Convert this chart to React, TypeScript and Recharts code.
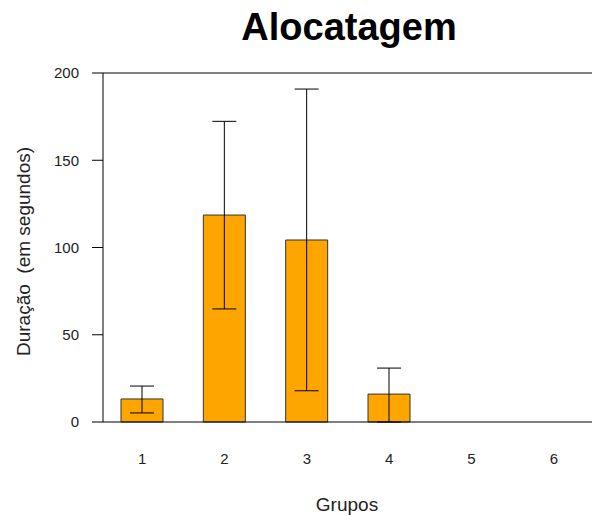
import { Bar, BarChart, ErrorBar, Label, ReferenceLine, XAxis, YAxis } from 'recharts'

const grupos = ['1', '2', '3', '4', '5', '6']
const duracaoMedia = [13.2, 118.6, 104.3, 16, 0, 0]
const duracaoMin = [5.2, 64.8, 17.9, 0, 0, 0]
const duracaoMax = [20.6, 172.3, 190.8, 30.9, 0, 0]
const yTicks = [0, 50, 100, 150, 200]

const font = '"Liberation Sans", Arial, sans-serif'

const data = grupos.map((grupo, i) => ({
  grupo,
  duracao: duracaoMedia[i],
  // ErrorBar wants [below, above] offsets from the bar value
  erro: [duracaoMedia[i] - duracaoMin[i], duracaoMax[i] - duracaoMedia[i]],
}))

function YLabel({ viewBox }: any) {
  const cx = viewBox.x + 23
  const cy = viewBox.y + viewBox.height / 2 + 4
  return (
    <text
      x={cx}
      y={cy}
      transform={`rotate(-90 ${cx} ${cy})`}
      textAnchor="middle"
      dominantBaseline="central"
      fontFamily={font}
      fontSize={19}
      fill="#222"
      style={{ whiteSpace: 'pre' }}
    >
      {'Duração  (em segundos)'}
    </text>
  )
}

function XLabel({ viewBox }: any) {
  return (
    <text
      x={viewBox.x + viewBox.width / 2 - 2}
      y={viewBox.y + viewBox.height - 4}
      textAnchor="middle"
      fontFamily={font}
      fontSize={19}
      fill="#222"
    >
      Grupos
    </text>
  )
}

export default function App() {
  return (
    <div
      style={{
        position: 'absolute',
        left: 0,
        top: 0,
        width: 592,
        height: 515,
        overflow: 'hidden',
        background: '#fff',
      }}
    >
      <div
        style={{
          position: 'absolute',
          left: 349,
          top: 8,
          transform: 'translateX(-50%)',
          fontFamily: font,
          fontWeight: 'bold',
          fontSize: 38,
          lineHeight: '38px',
          color: '#000',
          whiteSpace: 'nowrap',
        }}
      >
        Alocatagem
      </div>
      <BarChart
        width={600}
        height={515}
        data={data}
        margin={{ top: 73, right: 5, bottom: 0, left: 0 }}
      >
        <XAxis
          dataKey="grupo"
          axisLine={false}
          tickLine={false}
          tickSize={0}
          tickMargin={31}
          height={93}
          padding={{ left: -2, right: 0 }}
          tick={{ fontFamily: font, fontSize: 15, fill: '#222' }}
        >
          <Label content={XLabel} />
        </XAxis>
        <YAxis
          domain={[0, 200]}
          ticks={yTicks}
          width={103}
          tickSize={11}
          tickMargin={13}
          axisLine={{ stroke: '#000' }}
          tickLine={{ stroke: '#000' }}
          tick={{ fontFamily: font, fontSize: 15, fill: '#222' }}
        >
          <Label content={YLabel} />
        </YAxis>
        <ReferenceLine y={200} stroke="#000" />
        <Bar
          dataKey="duracao"
          fill="#FFA500"
          stroke="#333"
          strokeWidth={1}
          barSize={42}
          isAnimationActive={false}
        >
          <ErrorBar dataKey="erro" width={12} stroke="#000" strokeWidth={1} />
        </Bar>
        <ReferenceLine y={0} stroke="#000" />
      </BarChart>
    </div>
  )
}
